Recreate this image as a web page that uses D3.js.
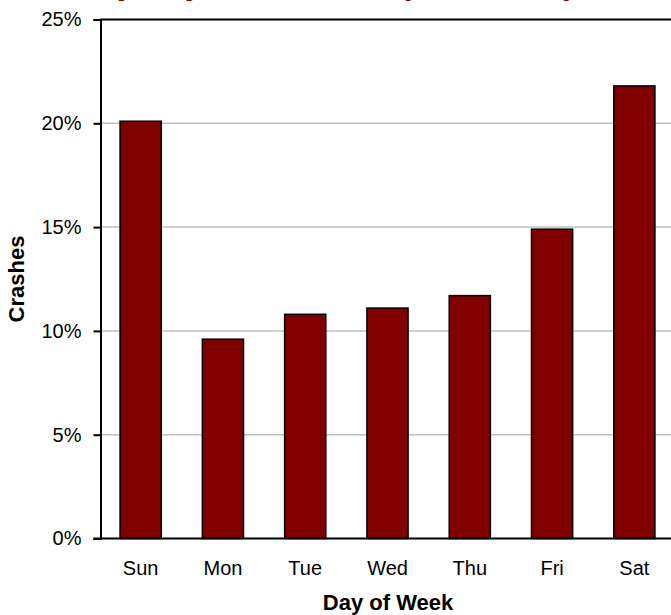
<!DOCTYPE html>
<html>
<head>
<meta charset="utf-8">
<script src="https://cdn.jsdelivr.net/npm/d3@7/dist/d3.min.js"></script>
<style>
  html, body { margin: 0; padding: 0; background: #fff; }
  svg { display: block; }
  text { font-family: "Liberation Sans", Arial, sans-serif; }
</style>
</head>
<body>
<svg id="chart" width="671" height="615"></svg>
<script>
const days = ["Sun", "Mon", "Tue", "Wed", "Thu", "Fri", "Sat"];
const crashShare = [0.201, 0.096, 0.108, 0.111, 0.117, 0.149, 0.218];
const yTicks = [0, 0.05, 0.10, 0.15, 0.20, 0.25];
const titleMain = "by Day of Week";
const titleParen = "(2005-2009)";
const xTitle = "Day of Week";
const yTitle = "Crashes";

(function () {
const svg = d3.select("#chart");
const pLeft = 100.5, pTop = 19.5, pBottom = 538.5;

const x = d3.scaleBand().domain(days).range([99.5, 675.5])
  .paddingInner(0.5).paddingOuter(0.25);
const y = d3.scaleLinear().domain([0, 0.25]).range([pBottom, pTop]);

// title (cut off at top of the frame, only descenders visible)
const t = svg.append("text")
  .attr("x", 97.5).attr("y", -6.5)
  .attr("font-size", 32).attr("font-weight", "bold")
  .attr("fill", "#800000");
t.append("tspan").text(titleMain);
t.append("tspan").attr("x", 400).text(titleParen);

// gridlines
svg.append("g").selectAll("line")
  .data(yTicks.filter(d => d > 0 && d < 0.25))
  .join("line")
  .attr("x1", pLeft).attr("x2", 671)
  .attr("y1", d => y(d)).attr("y2", d => y(d))
  .attr("stroke", "#c0c0c0").attr("stroke-width", 1.5);

// top border of plot area
svg.append("line")
  .attr("x1", pLeft).attr("x2", 671)
  .attr("y1", y(0.25)).attr("y2", y(0.25))
  .attr("stroke", "#000").attr("stroke-width", 2);

// bars
svg.append("g").selectAll("rect")
  .data(days.map((d, i) => ({ day: d, v: crashShare[i] })))
  .join("rect")
  .attr("x", d => x(d.day))
  .attr("width", x.bandwidth())
  .attr("y", d => y(d.v))
  .attr("height", d => y(0) - y(d.v))
  .attr("fill", "#800000")
  .attr("stroke", "#000").attr("stroke-width", 1.5);

// y axis
const yAxis = d3.axisLeft(y).tickValues(yTicks)
  .tickFormat(d3.format(".0%")).tickSize(7).tickPadding(12);
const gy = svg.append("g").attr("transform", `translate(${pLeft},0)`).call(yAxis);
gy.select(".domain").attr("stroke", "#000").attr("stroke-width", 2);
gy.selectAll(".tick line").attr("stroke", "#000").attr("stroke-width", 2);
gy.selectAll(".tick text").attr("font-size", 20).attr("fill", "#000")
  .attr("font-family", '"Liberation Sans", Arial, sans-serif');

// x axis
const xAxis = d3.axisBottom(x).tickSize(0).tickPadding(22);
const gx = svg.append("g").attr("transform", `translate(0,${pBottom})`).call(xAxis);
gx.select(".domain").attr("d", `M${pLeft - 7},0H671`).attr("stroke", "#000").attr("stroke-width", 2);
gx.selectAll(".tick text").attr("font-size", 20).attr("fill", "#000")
  .attr("font-family", '"Liberation Sans", Arial, sans-serif');

// axis titles
svg.append("text")
  .attr("x", 388).attr("y", 610)
  .attr("text-anchor", "middle")
  .attr("font-size", 22).attr("font-weight", "bold")
  .text(xTitle);

svg.append("text")
  .attr("transform", `translate(24,${(pTop + pBottom) / 2}) rotate(-90)`)
  .attr("text-anchor", "middle")
  .attr("font-size", 22).attr("font-weight", "bold")
  .text(yTitle);
})();
</script>
</body>
</html>
